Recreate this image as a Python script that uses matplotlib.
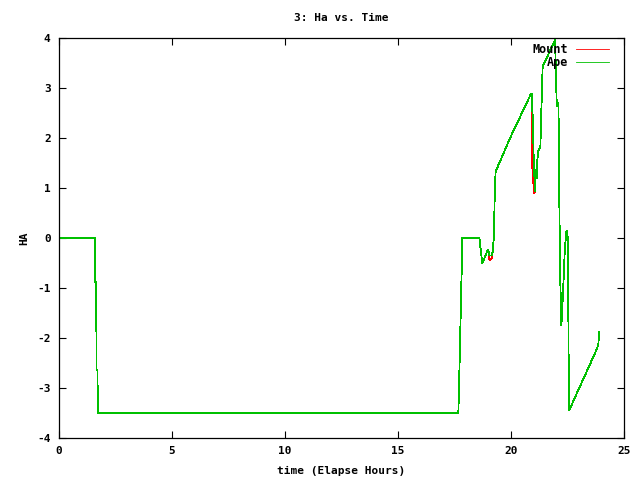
import matplotlib
matplotlib.use("Agg")
import matplotlib.pyplot as plt

time = [0.0, 1.59, 1.60, 1.65, 1.66, 1.70, 1.72, 17.67, 17.70, 17.78, 17.85, 18.60, 18.65,
        18.73, 18.97, 19.00, 19.05, 19.15, 19.20, 19.25, 19.28, 19.32, 19.96, 20.87, 20.92,
        20.93, 20.98, 21.00, 21.06, 21.10, 21.14, 21.16, 21.20, 21.30, 21.35, 21.40, 21.95,
        22.02, 22.05, 22.10, 22.12, 22.17, 22.23, 22.27, 22.33, 22.38, 22.45, 22.50, 22.53,
        22.55, 22.58, 23.82, 23.87, 23.90]
mount = [0.0, 0.0, -0.88, -0.88, -2.64, -2.64, -3.5, -3.5, -3.0, -1.4, 0.0, 0.0, -0.2,
         -0.51, -0.24, -0.26, -0.44, -0.40, -0.25, 0.1, 0.9, 1.33, 2.0, 2.87, 2.88,
         1.39, 1.39, 0.89, 0.93, 1.36, 1.2, 1.53, 1.73, 1.83, 2.66, 3.43, 3.96,
         2.73, 2.63, 2.7, 1.6, -0.64, -1.74, -1.4, -0.8, -0.24, 0.13, 0.15, -0.74,
         -2.5, -3.44, -2.2, -2.1, -1.87]
ape = [0.0, 0.0, -0.88, -0.88, -2.64, -2.64, -3.5, -3.5, -3.0, -1.4, 0.0, 0.0, -0.2,
       -0.51, -0.24, -0.26, -0.35, -0.35, -0.25, 0.1, 0.9, 1.33, 2.0, 2.87, 2.88,
       2.7, 2.23, 1.66, 0.93, 1.36, 1.2, 1.53, 1.73, 1.83, 2.66, 3.43, 3.96,
       2.73, 2.63, 2.7, 1.6, -0.64, -1.74, -1.4, -0.8, -0.24, 0.13, 0.15, -0.74,
       -2.5, -3.44, -2.2, -2.1, -1.87]

plt.rcParams['font.family'] = ['DejaVu Sans Mono']
plt.rcParams['font.size'] = 8
plt.rcParams['font.weight'] = 'bold'
plt.rcParams['axes.unicode_minus'] = False

fig = plt.figure(figsize=(6.4, 4.8), dpi=100)
ax = fig.add_axes([59/640, 1-438/480, (624-59)/640, 400/480])
ax.plot(time, mount, color='#ff0000', lw=0.6, label='Mount', antialiased=False)
ax.plot(time, ape, color='#00c000', lw=0.6, label='Ape', antialiased=False)
ax.set_xlim(0, 25)
ax.set_ylim(-4, 4)
ax.set_xticks(range(0, 26, 5))
ax.set_yticks(range(-4, 5))
ax.tick_params(direction='in', top=True, right=True, length=5, width=0.8, labelsize=8, pad=6)
for s in ax.spines.values():
    s.set_linewidth(0.9)
ax.set_title('3: Ha vs. Time', fontsize=8, fontweight='bold', pad=12)
ax.set_xlabel('time (Elapse Hours)', fontsize=8, fontweight='bold', labelpad=7)
ax.set_ylabel('HA', fontsize=8, fontweight='bold', labelpad=6)
leg = ax.legend(loc='upper right', bbox_to_anchor=(1 - 10/565, 1.0), frameon=False,
                markerfirst=False, handlelength=2.8, borderaxespad=0.0,
                handletextpad=0.7, labelspacing=0.0, fontsize=8.5)
for t in leg.get_texts():
    t.set_ha('right')
fig.savefig('out.png', dpi=100)
